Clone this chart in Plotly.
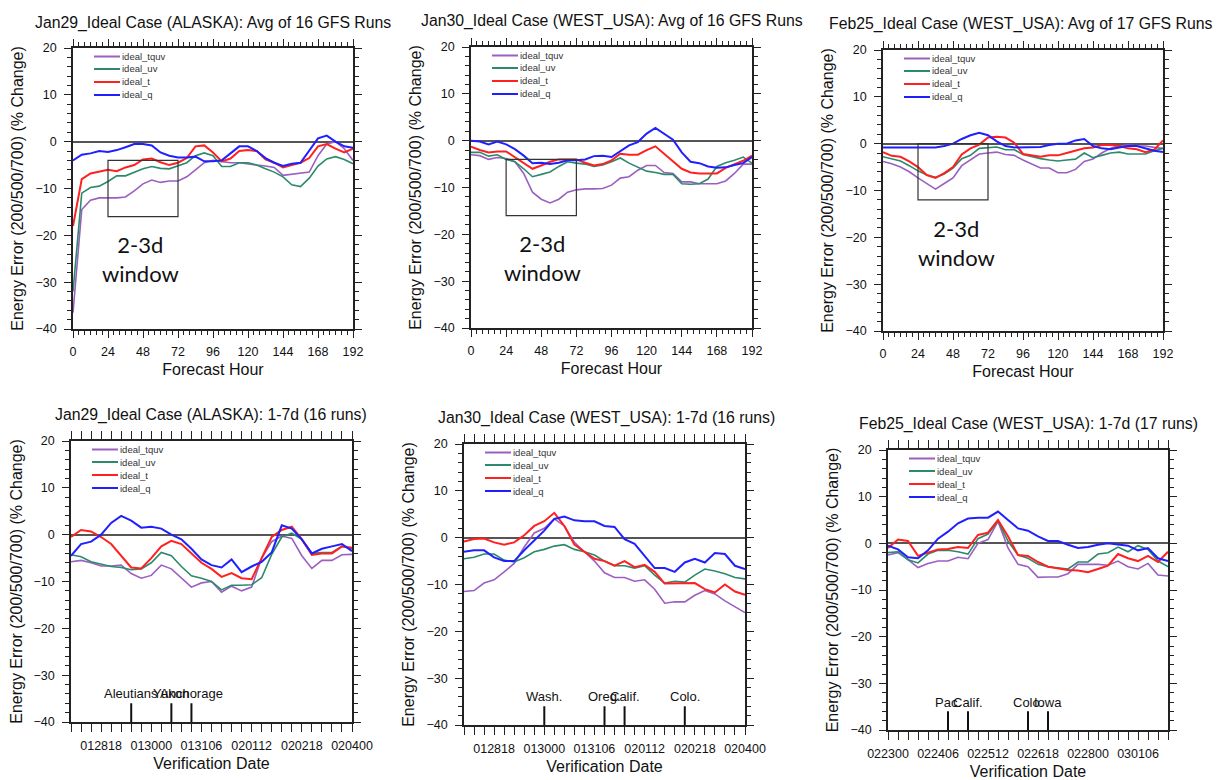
import plotly.graph_objects as go

# The page body has an 8px default margin, so the figure is drawn 8px in from the window corner.
OFF = 8
W, H = 1221 - OFF, 780 - OFF

# ---------------- data ----------------
series_names = ["ideal_tquv", "ideal_uv", "ideal_t", "ideal_q"]
series_colors = ["#9b5fc0", "#2b8a6d", "#ff2020", "#2020ff"]
series_widths = [1.6, 1.6, 2.0, 2.0]

# Top row: forecast hour 0..192 every 6 h
hours = list(range(0, 193, 6))

jan29_avg_tquv = [-36.5, -14.5, -12.5, -12.0, -12.0, -12.0, -11.8, -10.5, -9.0, -8.2, -8.7, -8.4, -8.4, -7.5, -6.0, -4.5, -4.0,
                  -4.2, -4.5, -4.5, -4.8, -5.0, -5.2, -5.5, -7.2, -7.0, -6.8, -6.5, -3.0, -0.5, 0.0, -1.5, -4.0]
jan29_avg_uv = [-32.0, -11.0, -9.8, -9.5, -8.5, -7.3, -7.3, -6.5, -5.8, -5.3, -5.7, -5.8, -5.2, -4.5, -3.0, -2.4, -3.0,
                -5.3, -5.3, -4.5, -4.5, -5.0, -5.8, -6.5, -7.5, -9.2, -9.6, -7.8, -5.2, -3.7, -3.2, -3.8, -4.7]
jan29_avg_t = [-18.0, -8.0, -6.8, -6.4, -6.0, -6.3, -5.5, -5.0, -3.8, -3.6, -4.4, -5.0, -4.5, -3.5, -1.0, -0.8, -2.3,
               -4.2, -3.6, -2.0, -1.8, -2.0, -3.8, -4.5, -5.5, -5.0, -4.5, -3.5, -1.0, -0.5, -1.5, -2.3, -1.5]
jan29_avg_q = [-4.0, -2.8, -2.5, -2.0, -2.2, -1.8, -1.2, -0.5, -0.5, -0.8, -2.3, -3.0, -3.4, -3.4, -3.2, -4.2, -4.2,
               -4.0, -2.5, -1.0, -1.0, -2.0, -3.5, -4.5, -5.2, -4.7, -4.5, -2.0, 0.7, 1.3, 0.0, -1.0, -1.3]

jan30_avg_tquv = [-3.0, -3.2, -4.0, -3.6, -3.8, -4.5, -7.0, -11.0, -12.5, -13.3, -12.5, -11.0, -10.5, -10.3, -10.3, -10.2, -9.5,
                  -8.0, -7.7, -6.3, -5.3, -5.3, -6.8, -7.0, -8.8, -8.8, -9.2, -9.2, -9.2, -8.6, -7.0, -5.0, -5.0]
jan30_avg_uv = [-2.5, -2.5, -3.3, -3.0, -4.0, -4.5, -6.0, -7.7, -7.2, -6.7, -5.5, -4.5, -4.8, -5.0, -5.5, -5.2, -4.5,
                -3.7, -4.8, -5.7, -6.5, -6.8, -7.2, -7.2, -9.2, -9.3, -9.2, -8.2, -5.5, -4.7, -4.2, -3.5, -4.8]
jan30_avg_t = [-1.3, -2.0, -2.5, -2.3, -2.3, -3.5, -4.7, -6.0, -5.3, -4.5, -4.0, -4.0, -4.0, -4.7, -5.3, -5.0, -4.2,
               -2.8, -3.0, -3.0, -2.0, -1.2, -2.8, -4.5, -6.0, -6.8, -7.0, -7.0, -7.0, -5.8, -5.0, -4.3, -3.2]
jan30_avg_q = [0.0, -0.2, -0.8, -0.2, -0.8, -1.8, -3.2, -4.8, -4.7, -5.0, -4.7, -4.2, -4.2, -4.0, -3.3, -3.2, -3.5,
               -2.3, -1.0, -0.3, 1.5, 2.7, 1.5, 0.2, -2.5, -4.5, -4.8, -5.5, -5.8, -5.7, -5.2, -4.8, -3.5]

feb25_avg_tquv = [-3.8, -4.3, -5.0, -6.0, -7.3, -8.5, -9.7, -8.5, -7.3, -4.7, -3.5, -2.2, -2.0, -1.8, -2.3, -2.5, -3.5,
                  -4.3, -5.2, -5.2, -6.2, -6.2, -5.5, -3.8, -3.3, -2.0, -1.0, -0.5, -0.3, -0.5, -0.5, -0.8, -1.0]
feb25_avg_uv = [-2.8, -3.3, -3.7, -4.7, -5.8, -6.7, -7.2, -6.5, -5.2, -3.2, -2.5, -1.0, -0.8, -0.7, -1.3, -1.3, -2.3,
                -2.8, -3.2, -3.5, -3.7, -3.5, -3.3, -2.0, -3.0, -2.5, -2.0, -1.8, -2.2, -2.2, -2.2, -1.5, -1.0]
feb25_avg_t = [-1.8, -2.6, -2.8, -3.8, -5.0, -6.7, -7.3, -6.3, -5.0, -2.3, -1.0, -0.2, 1.3, 1.5, 1.3, 0.2, -2.2,
               -2.5, -2.8, -2.5, -2.5, -2.0, -1.5, -1.0, -0.8, -0.3, -0.3, -0.5, -1.0, -1.2, -1.8, -1.3, 0.7]
feb25_avg_q = [-0.8, -0.8, -0.8, -0.8, -0.8, -0.7, -0.8, -0.5, 0.0, 1.0, 1.8, 2.3, 1.8, 0.5, -0.5, -0.8, -0.8,
               -0.8, -0.7, -0.3, 0.0, 0.0, 0.7, 1.0, -0.5, -1.0, -1.2, -0.8, -0.5, -0.5, -1.0, -1.5, -1.8]

# Bottom row: verification date, 6-hourly steps (index 0..28)
steps = list(range(29))

jan29_ver_tquv = [-5.8, -5.5, -6.0, -6.7, -6.7, -6.5, -8.3, -9.3, -8.7, -6.5, -7.3, -9.3, -11.2, -10.3, -10.0, -12.3, -11.0,
                  -12.0, -11.2, -5.0, -1.5, -0.3, -0.8, -4.5, -7.2, -5.5, -5.5, -4.3, -4.2]
jan29_ver_uv = [-4.3, -4.7, -5.8, -6.3, -6.8, -7.0, -7.5, -7.3, -6.0, -3.8, -4.5, -6.8, -8.8, -9.3, -10.0, -11.8, -10.8,
                -10.8, -10.7, -9.2, -4.2, -0.5, 0.3, -1.0, -4.0, -3.8, -3.8, -2.5, -3.0]
jan29_ver_t = [-0.5, 1.0, 0.7, -0.5, -2.0, -4.5, -7.0, -7.2, -5.0, -2.5, -1.3, -2.0, -4.0, -6.0, -7.3, -9.0, -8.2,
               -9.3, -9.5, -5.0, -0.5, 1.0, 1.7, -1.0, -4.3, -4.0, -4.0, -2.5, -2.8]
jan29_ver_q = [-4.5, -2.0, -1.5, 0.0, 2.5, 4.0, 3.0, 1.5, 1.7, 1.3, 0.0, -1.0, -3.0, -5.3, -6.5, -7.0, -5.3,
               -8.0, -6.8, -5.8, -3.8, 2.0, 1.3, -1.0, -4.0, -3.0, -2.5, -2.0, -3.5]

jan30_ver_tquv = [-11.5, -11.3, -9.7, -9.0, -7.3, -5.5, -2.0, 1.0, 2.0, 4.0, 2.5, -1.0, -3.0, -5.0, -7.5, -8.5, -8.5,
                  -9.3, -9.0, -11.0, -14.0, -13.7, -13.7, -12.3, -11.3, -12.0, -13.5, -14.8, -16.0]
jan30_ver_uv = [-4.5, -4.2, -3.5, -3.5, -4.8, -5.2, -4.3, -3.0, -2.5, -1.8, -1.5, -2.5, -3.0, -3.7, -5.0, -6.0, -6.0,
                -6.5, -6.0, -8.0, -9.7, -9.3, -9.5, -8.0, -6.7, -7.1, -7.7, -8.5, -8.8]
jan30_ver_t = [-0.8, -0.3, -0.2, -1.0, -1.5, -1.0, 0.5, 2.5, 3.5, 5.3, 2.5, -1.5, -3.0, -4.5, -5.0, -6.0, -5.0,
               -6.3, -5.8, -7.3, -9.8, -9.8, -9.7, -9.7, -11.0, -11.7, -10.0, -11.5, -12.2]
jan30_ver_q = [-3.0, -2.7, -2.7, -4.2, -5.0, -5.0, -2.7, -0.5, 1.5, 4.0, 4.5, 3.7, 3.5, 3.5, 2.5, 2.3, -0.3,
               -1.3, -3.8, -6.5, -6.5, -7.3, -5.3, -4.5, -5.3, -3.3, -3.5, -6.0, -6.7]

feb25_ver_tquv = [-2.5, -2.0, -3.5, -5.2, -4.3, -3.8, -3.8, -3.0, -3.3, 0.0, 0.8, 4.7, -1.0, -4.5, -5.0, -7.3, -7.2,
                  -7.2, -6.5, -4.5, -4.5, -4.5, -4.7, -3.8, -5.0, -5.5, -4.3, -6.8, -7.0]
feb25_ver_uv = [-2.0, -1.8, -3.5, -4.2, -2.3, -1.5, -1.5, -1.8, -2.3, 1.0, 2.0, 4.8, 0.5, -2.5, -3.2, -4.5, -5.0,
                -5.3, -5.5, -4.0, -4.0, -2.3, -2.0, -0.8, -1.8, -0.5, -1.3, -3.8, -5.0]
feb25_ver_t = [-1.0, 0.8, 0.5, -2.7, -2.0, -1.3, -1.2, -0.8, -1.0, 1.8, 2.3, 5.0, 1.5, -2.5, -2.7, -4.0, -5.0,
               -5.3, -5.7, -5.8, -6.2, -5.5, -4.8, -2.3, -3.2, -3.8, -2.7, -4.0, -1.8]
feb25_ver_q = [-0.5, -1.3, -3.0, -3.2, -1.5, 1.0, 2.5, 4.3, 5.3, 5.5, 5.5, 6.8, 5.0, 3.2, 2.7, 1.5, 0.5,
               0.5, -0.3, -1.0, -0.8, -0.3, 0.0, -0.2, -0.5, -1.5, -1.0, -3.2, -3.8]

# Verification-date tick labels
jan_tick_pos = [3, 8, 13, 18, 23, 28]
jan_tick_text = ["012818", "013000", "013106", "020112", "020218", "020400"]
feb_tick_pos = [0, 5, 10, 15, 20, 25]
feb_tick_text = ["022300", "022406", "022512", "022618", "022800", "030106"]

# Landfall / event markers (step index)
jan29_event_names = ["Aleutians", "Yukon", "Anchorage"]
jan29_event_steps = [6, 10, 12]
jan30_event_names = ["Wash.", "Oreg.", "Calif.", "Colo."]
jan30_event_steps = [8, 14, 16, 22]
feb25_event_names = ["Pac.", "Calif.", "Colo.", "Iowa"]
feb25_event_steps = [6, 8, 14, 16]

# 2-3 day window boxes (hours, energy error)
window_x = [24, 72]
jan29_window_y = [-16, -4]
jan30_window_y = [-16, -4]
feb25_window_y = [-12, 0]
window_text_xy = [(46, -25), (49, -25), (50.5, -21.3)]

top_titles = ["Jan29_Ideal Case (ALASKA): Avg of 16 GFS Runs",
              "Jan30_Ideal Case (WEST_USA): Avg of 16 GFS Runs",
              "Feb25_Ideal Case (WEST_USA): Avg of 17 GFS Runs"]
bottom_titles = ["Jan29_Ideal Case (ALASKA): 1-7d (16 runs)",
                 "Jan30_Ideal Case (WEST_USA): 1-7d (16 runs)",
                 "Feb25_Ideal Case (WEST_USA): 1-7d (17 runs)"]

# ---------------- layout geometry (window pixels) ----------------
# (left, right, top, bottom) of each plot area
boxes = [(73, 353, 48, 329), (471, 752, 47, 328), (883, 1163, 50, 331),
         (71, 352, 441, 722), (464, 745, 444, 725), (888, 1168, 450, 730)]
title_xy = [(213, 23), (612, 21), (1021, 24), (211, 415), (606, 418), (1028, 424)]

FONT = "Liberation Sans, Arial, Helvetica, sans-serif"
AXC = "#222222"

fig = go.Figure()
top_data = [
    [jan29_avg_tquv, jan29_avg_uv, jan29_avg_t, jan29_avg_q],
    [jan30_avg_tquv, jan30_avg_uv, jan30_avg_t, jan30_avg_q],
    [feb25_avg_tquv, feb25_avg_uv, feb25_avg_t, feb25_avg_q],
]
bot_data = [
    [jan29_ver_tquv, jan29_ver_uv, jan29_ver_t, jan29_ver_q],
    [jan30_ver_tquv, jan30_ver_uv, jan30_ver_t, jan30_ver_q],
    [feb25_ver_tquv, feb25_ver_uv, feb25_ver_t, feb25_ver_q],
]

shapes = []
annotations = []
layout_axes = {}


def px_x(X):
    return (X - OFF) / W


def px_y(Y):
    return 1 - (Y - OFF) / H


for p in range(6):
    n = p + 1
    xname = "x" if n == 1 else f"x{n}"
    yname = "y" if n == 1 else f"y{n}"
    xkey = "xaxis" if n == 1 else f"xaxis{n}"
    ykey = "yaxis" if n == 1 else f"yaxis{n}"
    l, r, t, b = boxes[p]
    top = p < 3
    xs = hours if top else steps
    data = top_data[p] if top else bot_data[p - 3]
    for s in range(4):
        fig.add_trace(go.Scatter(x=xs, y=data[s], mode="lines", name=series_names[s],
                                 line=dict(color=series_colors[s], width=series_widths[s]),
                                 xaxis=xname, yaxis=yname, showlegend=False))
    common = dict(showline=True, linecolor=AXC, linewidth=1.5, mirror="ticks", ticks="outside",
                  tickcolor=AXC, tickwidth=1.3, showgrid=False, automargin=False,
                  tickfont=dict(family=FONT, size=12.5, color="#111"),
                  title_font=dict(family=FONT, size=16, color="#111"))
    if top:
        xa = dict(domain=[px_x(l), px_x(r)], anchor=yname, range=[0, 192], tickmode="linear", tick0=0, dtick=24,
                  ticklen=7, minor=dict(dtick=4, ticklen=4, ticks="outside", tickcolor=AXC, tickwidth=1),
                  title=dict(text="Forecast Hour", standoff=6), ticklabelstandoff=3, zeroline=False, **common)
    else:
        pos = jan_tick_pos if p < 5 else feb_tick_pos
        txt = jan_tick_text if p < 5 else feb_tick_text
        tt = [txt[pos.index(i)] if i in pos else "" for i in steps]
        xa = dict(domain=[px_x(l), px_x(r)], anchor=yname, range=[0, 28], tickmode="array", tickvals=steps,
                  ticktext=tt, ticklen=8, title=dict(text="Verification Date", standoff=6), ticklabelstandoff=3,
                  zeroline=False, **common)
    ya = dict(domain=[px_y(b), px_y(t)], anchor=xname, range=[-40, 20], tickmode="linear", tick0=-40, dtick=10,
              ticklen=7, minor=dict(dtick=2, ticklen=4, ticks="outside", tickcolor=AXC, tickwidth=1),
              title=dict(text="Energy Error (200/500/700) (% Change)", standoff=8), ticklabelstandoff=5,
              zeroline=True, zerolinecolor="#555555", zerolinewidth=1.6, **common)
    layout_axes[xkey] = xa
    layout_axes[ykey] = ya

    # title
    annotations.append(dict(text=(top_titles[p] if top else bottom_titles[p - 3]), x=px_x(title_xy[p][0]),
                            y=px_y(title_xy[p][1]), xref="paper", yref="paper", showarrow=False,
                            xanchor="center", yanchor="middle", font=dict(family=FONT, size=15.8, color="#111")))
    # legend (manual, inside plot top-left)
    pw, ph = r - l, b - t
    for s in range(4):
        ry = [8.5, 21, 34, 47][s]
        shapes.append(dict(type="line", xref=f"{xname} domain", yref=f"{yname} domain",
                           x0=21 / pw, x1=47 / pw, y0=1 - ry / ph, y1=1 - ry / ph,
                           line=dict(color=series_colors[s], width=2)))
        annotations.append(dict(text=series_names[s], xref=f"{xname} domain", yref=f"{yname} domain",
                                x=46.5 / pw, y=1 - ry / ph, xanchor="left", yanchor="middle", showarrow=False,
                                font=dict(family=FONT, size=9.5, color="#333")))
    if top:
        wy = [jan29_window_y, jan30_window_y, feb25_window_y][p]
        shapes.append(dict(type="rect", xref=xname, yref=yname, x0=window_x[0], x1=window_x[1],
                           y0=wy[0], y1=wy[1], line=dict(color="#333", width=1.2)))
        tx, ty = window_text_xy[p]
        annotations.append(dict(text="2-3d<br>window", xref=xname, yref=yname, x=tx, y=ty, showarrow=False,
                                xanchor="center", yanchor="middle",
                                font=dict(family="Lato, Open Sans, sans-serif", size=22, color="#111")))
    else:
        names = [jan29_event_names, jan30_event_names, feb25_event_names][p - 3]
        stp = [jan29_event_steps, jan30_event_steps, feb25_event_steps][p - 3]
        for nm, st in zip(names, stp):
            shapes.append(dict(type="line", xref=xname, yref=yname, x0=st, x1=st, y0=-40, y1=-36,
                               line=dict(color="#111", width=2)))
            annotations.append(dict(text=nm, xref=xname, yref=yname, x=st, y=-34, showarrow=False,
                                    xanchor="center", yanchor="middle",
                                    font=dict(family=FONT, size=13, color="#111")))

fig.update_layout(width=W, height=H, margin=dict(l=0, r=0, t=0, b=0), paper_bgcolor="white",
                  plot_bgcolor="white", showlegend=False, shapes=shapes, annotations=annotations,
                  **layout_axes)
fig.write_html("out.html")
